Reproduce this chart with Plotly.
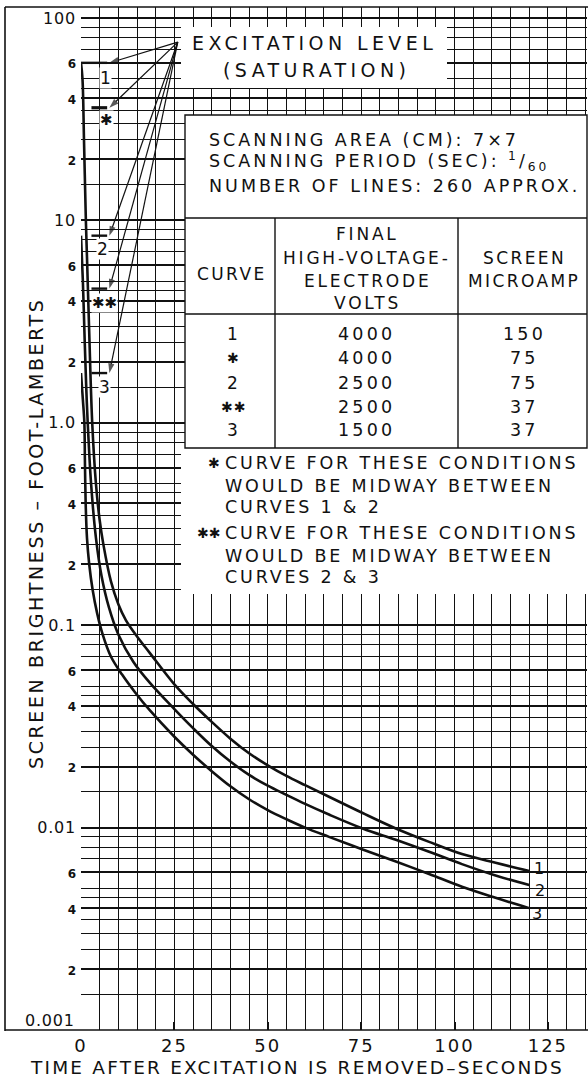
import math
import plotly.graph_objects as go

# ---------------- data ----------------
t_curve1 = [0, 0.4, 0.8, 1.3, 1.6, 2.2, 3.0, 4.0, 5.0, 6.0, 8.0, 10, 12, 15, 18.4, 25, 30, 35, 40, 45,
            50, 55, 60, 66.4, 75.4, 84.3, 93.2, 102, 111, 120]
v_curve1 = [60, 50, 25, 10, 6.6, 2.8, 1.0, 0.5, 0.33, 0.25, 0.165, 0.127, 0.106, 0.088, 0.073, 0.051, 0.0408,
            0.0333, 0.0275, 0.0233, 0.0203, 0.018, 0.0162, 0.0142, 0.0118, 0.0099, 0.0085, 0.0074, 0.0067, 0.0061]

t_curve2 = [0, 0.5, 1.0, 1.4, 1.8, 2.7, 4.0, 5.5, 7.5, 10, 14, 18.4, 25, 30, 35, 40, 45, 50, 55, 60,
            66.4, 75.4, 84.3, 93.2, 102, 111, 120]
v_curve2 = [8.4, 5.0, 2.5, 1.5, 1.0, 0.5, 0.27, 0.175, 0.122, 0.09, 0.066, 0.052, 0.0385, 0.031, 0.0253,
            0.0212, 0.0182, 0.0161, 0.0145, 0.0131, 0.0116, 0.0099, 0.0087, 0.0076, 0.0066, 0.0058, 0.0052]

t_curve3 = [0, 0.5, 0.9, 1.05, 1.25, 1.6, 2.2, 3.1, 4.3, 5.8, 8.0, 11, 14.5, 18.4, 25, 30, 35, 40, 45, 50,
            55, 60, 66.4, 75.4, 84.3, 93.2, 102, 111, 120]
v_curve3 = [1.76, 1.3, 1.0, 0.65, 0.4, 0.27, 0.2, 0.15, 0.115, 0.09, 0.07, 0.057, 0.0465, 0.038, 0.0281,
            0.0229, 0.019, 0.016, 0.0138, 0.0122, 0.011, 0.0100, 0.009, 0.0078, 0.0068, 0.0059, 0.0051,
            0.0045, 0.004]

curve_names = ["1", "2", "3"]

marker_names = ["1", "✱", "2", "✱✱", "3"]
marker_levels = [60, 36, 8.4, 4.6, 1.76]
saturation_point = (25.9, 76)

x_tick_vals = [0, 25, 50, 75, 100, 125]
y_tick_vals = [0.001, 0.002, 0.004, 0.006, 0.01, 0.02, 0.04, 0.06, 0.1, 0.2, 0.4, 0.6,
               1, 2, 4, 6, 10, 20, 40, 60, 100]
y_tick_text = ["0.001", "2", "4", "6", "0.01", "2", "4", "6", "0.1", "2", "4", "6",
               "1.0", "2", "4", "6", "10", "2", "4", "6", "100"]
y_minor_mantissas = [1.5, 2.5, 3, 3.5, 4.5, 5, 7, 8, 9]
y_decades = [0.001, 0.01, 0.1, 1, 10]

table_curves = ["1", "✱", "2", "✱✱", "3"]
table_volts = ["4000", "4000", "2500", "2500", "1500"]
table_microamp = ["150", "75", "75", "37", "37"]

scan_lines = ["SCANNING AREA (CM): 7×7",
              "SCANNING PERIOD (SEC): <sup>1</sup>/<sub>60</sub>",
              "NUMBER OF LINES: 260 APPROX."]
footnote_marks = ["✱", "✱✱"]
footnote_lines = [["CURVE FOR THESE CONDITIONS", "WOULD BE MIDWAY BETWEEN", "CURVES 1 & 2"],
                  ["CURVE FOR THESE CONDITIONS", "WOULD BE MIDWAY BETWEEN", "CURVES 2 & 3"]]

# ---------------- geometry helpers ----------------
W, H = 588, 1079
ML, MR, MT, MB = 81, 1, 7, 49
PW, PH = W - ML - MR, H - MT - MB
FONT = "DejaVu Sans"
INK = "#111111"


def xp(px):
    return (px - ML) / PW


def yp(py):
    return (H - MB - py) / PH


def sp(text, ls=2.4):
    return f"<span style='letter-spacing:{ls}px'>{text}</span>"


fig = go.Figure()

for t, v in [(t_curve1, v_curve1), (t_curve2, v_curve2), (t_curve3, v_curve3)]:
    fig.add_trace(go.Scatter(x=t, y=v, mode="lines",
                             line=dict(color=INK, width=2.6, shape="spline", smoothing=1.0),
                             hoverinfo="skip", showlegend=False))

# excitation-level bars
BAR_END = 7.0
for i, lvl in enumerate(marker_levels):
    x0 = 0 if i == 0 else 2.8
    fig.add_trace(go.Scatter(x=[x0, BAR_END], y=[lvl, lvl], mode="lines",
                             line=dict(color=INK, width=3.2 if i == 1 else 2.4),
                             hoverinfo="skip", showlegend=False))

# arrows from the saturation label to each bar end
for lvl in marker_levels:
    fig.add_trace(go.Scatter(x=[saturation_point[0], BAR_END + 0.6], y=[saturation_point[1], lvl],
                             mode="lines+markers",
                             line=dict(color=INK, width=1.2),
                             marker=dict(symbol="arrow", size=[0, 10], angleref="previous", color=INK,
                                         line=dict(width=0)),
                             hoverinfo="skip", showlegend=False))

shapes = []
# white areas covering grid
shapes.append(dict(type="rect", xref="paper", yref="paper", x0=xp(181), x1=xp(447), y0=yp(88), y1=yp(27),
                   fillcolor="white", line=dict(width=0), layer="above"))
shapes.append(dict(type="rect", xref="paper", yref="paper", x0=xp(181), x1=xp(590), y0=yp(594), y1=yp(448),
                   fillcolor="white", line=dict(width=0), layer="above"))
shapes.append(dict(type="rect", xref="paper", yref="paper", x0=xp(185), x1=xp(587), y0=yp(448), y1=yp(115),
                   fillcolor="white", line=dict(color=INK, width=1.4), layer="above"))
# table rules
for py in (218, 314):
    shapes.append(dict(type="line", xref="paper", yref="paper", x0=xp(185), x1=xp(587), y0=yp(py), y1=yp(py),
                       line=dict(color=INK, width=1.4), layer="above"))
for px in (275, 458):
    shapes.append(dict(type="line", xref="paper", yref="paper", x0=xp(px), x1=xp(px), y0=yp(448), y1=yp(218),
                       line=dict(color=INK, width=1.4), layer="above"))
# outer frame
shapes.append(dict(type="line", xref="paper", yref="paper", x0=xp(5), x1=xp(5), y0=yp(1031), y1=yp(7),
                   line=dict(color=INK, width=1.6)))
shapes.append(dict(type="line", xref="paper", yref="paper", x0=xp(5), x1=1.01, y0=1, y1=1,
                   line=dict(color=INK, width=1.6)))
shapes.append(dict(type="line", xref="paper", yref="paper", x0=xp(5), x1=1.01, y0=0, y1=0,
                   line=dict(color=INK, width=1.6)))

ann = []


def text(px, py, s, size=18, xanchor="center", ls=2.4, bg=None, color=INK):
    d = dict(xref="paper", yref="paper", x=xp(px), y=yp(py), text=sp(s, ls), showarrow=False,
             xanchor=xanchor, yanchor="middle", font=dict(family=FONT, size=size, color=color))
    if bg:
        d.update(bgcolor=bg, borderpad=0)
    ann.append(d)


# excitation level box
text(314, 43, "EXCITATION LEVEL", size=19, ls=4.4)
text(316, 70, "(SATURATION)", size=19, ls=4.4)

# marker labels, placed just below their bars
for name, lvl, dx, dy in zip(marker_names, marker_levels, [6.6, 6.9, 5.8, 6.2, 6.2], [15, 12, 13, 14, 14]):
    ann.append(dict(xref="x", yref="y", x=dx, y=math.log10(lvl), yshift=-dy, text=name, showarrow=False,
                    xanchor="center", yanchor="middle", bgcolor="white", borderpad=0,
                    font=dict(family=FONT, size=17 if "✱" not in name else 15, color=INK)))

# scanning info
for s, py in zip(scan_lines, [140, 162, 186]):
    text(207, py, s, size=17.5, xanchor="left", ls=3.0)

# table header
text(232, 274, "CURVE", size=17, ls=2.4)
for s, py in zip(["FINAL", "HIGH-VOLTAGE-", "ELECTRODE", "VOLTS"], [234, 258, 281, 303]):
    text(367, py, s, size=17, ls=2.8)
for s, py in zip(["SCREEN", "MICROAMP"], [258, 281]):
    text(524, py, s, size=17, ls=2.4)
# table rows
for c, v, m, py in zip(table_curves, table_volts, table_microamp, [334, 358, 383, 407, 430]):
    text(233, py, c, size=17 if "✱" not in c else 14, ls=1)
    text(366, py, v, size=17.5, ls=3.2)
    text(524, py, m, size=17.5, ls=3.2)

# footnotes
for mark, lines, py0 in zip(footnote_marks, footnote_lines, [463, 533]):
    text(222, py0, mark, size=14, xanchor="right", ls=0)
    for k, s in enumerate(lines):
        text(223, py0 + [0, 23, 44][k], s, size=17.5, xanchor="left", ls=2.8)

# curve end labels
for name, (px, py) in zip(curve_names, [(539, 868), (540, 890), (537, 913)]):
    text(px, py, name, size=16, ls=0)

# axis titles
text(297, 1067, "TIME AFTER EXCITATION IS REMOVED–SECONDS", size=18.5, ls=2.2)
ann.append(dict(xref="paper", yref="paper", x=xp(36), y=yp(534), textangle=-90,
                text=sp("SCREEN BRIGHTNESS – FOOT-LAMBERTS", 2.6), showarrow=False,
                xanchor="center", yanchor="middle", font=dict(family=FONT, size=19, color=INK)))

y_minor = [m * d for d in y_decades for m in y_minor_mantissas]
y_text_fmt = []
for v, s in zip(y_tick_vals, y_tick_text):
    mant = v / 10 ** math.floor(math.log10(v) + 1e-9)
    if v == min(y_tick_vals):
        # lowest label sits just above the bottom frame line, as in the original
        y_text_fmt.append("")
        text(77, 1020, s, size=16, xanchor="right", ls=0.8)
    elif abs(mant - 1) < 1e-6:
        y_text_fmt.append(f"<span style='font-size:16px;letter-spacing:0.8px'>{s}</span>")
    else:
        y_text_fmt.append(f"<b><span style='font-size:12px'>{s}</span></b>")
x_text_fmt = [sp(str(v), 2) for v in x_tick_vals]

fig.update_layout(
    template="none",
    width=W, height=H,
    margin=dict(l=ML, r=MR, t=MT, b=MB, autoexpand=False),
    paper_bgcolor="white", plot_bgcolor="white",
    showlegend=False,
    shapes=shapes, annotations=ann,
    font=dict(family=FONT, color=INK),
    xaxis=dict(range=[0, PW / 3.735], tickmode="array", tickvals=x_tick_vals, ticktext=x_text_fmt,
               automargin=False,
               ticks="inside", ticklen=8, tickwidth=2, tickcolor=INK,
               showgrid=True, gridcolor=INK, gridwidth=1,
               minor=dict(tickmode="linear", tick0=0, dtick=5, showgrid=True, gridcolor=INK, gridwidth=1, ticks=""),
               showline=False, zeroline=False,
               tickfont=dict(family=FONT, size=18, color=INK), ticklabelstandoff=3),
    yaxis=dict(type="log", range=[-3, 2.054], tickmode="array", tickvals=y_tick_vals, ticktext=y_text_fmt,
               automargin=False,
               ticks="", showgrid=True, gridcolor=INK, gridwidth=1.5,
               minor=dict(tickmode="array", tickvals=y_minor, showgrid=True, gridcolor=INK, gridwidth=1, ticks=""),
               showline=False, zeroline=False,
               tickfont=dict(family=FONT, size=16, color=INK), ticklabelstandoff=4),
)

fig.write_html("out.html", config={"displayModeBar": False},
               post_script="document.body.style.margin='0';document.body.style.overflow='hidden';")
